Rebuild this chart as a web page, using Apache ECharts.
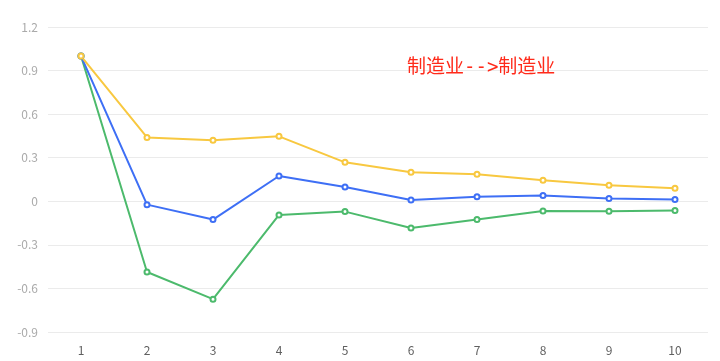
<!DOCTYPE html>
<html>
<head>
<meta charset="utf-8">
<script src="https://cdn.jsdelivr.net/npm/echarts@6/dist/echarts.min.js"></script>
<style>html,body{margin:0;padding:0;background:#fff;}#c{width:720px;height:361px;}</style>
</head>
<body>
<div id="c"></div>
<script>
var categories = ['1','2','3','4','5','6','7','8','9','10'];
var blueValues = [1.0, -0.023, -0.126, 0.174, 0.098, 0.009, 0.032, 0.039, 0.019, 0.012];
var greenValues = [1.0, -0.487, -0.674, -0.094, -0.071, -0.184, -0.126, -0.067, -0.069, -0.064];
var yellowValues = [1.0, 0.44, 0.42, 0.447, 0.268, 0.2, 0.186, 0.145, 0.11, 0.09];
var titleText = '制造业-->制造业';

var chart = echarts.init(document.getElementById('c'));
function mk(data, color) {
  return {
    type: 'line', data: data, symbol: 'emptyCircle', symbolSize: 5,
    lineStyle: { color: color, width: 2 }, itemStyle: { color: color }
  };
}
chart.setOption({
  animation: false,
  textStyle: { fontFamily: '"Noto Sans CJK SC", "Noto Sans", sans-serif' },
  title: {
    text: titleText, left: 402, top: 54,
    textStyle: { color: '#ff2a1a', fontSize: 19, fontWeight: 'normal', fontFamily: '"DejaVu Sans Mono", "Noto Sans CJK SC", monospace' }
  },
  grid: { left: 48, right: 12, top: 27, bottom: 29 },
  xAxis: {
    type: 'category', data: categories, boundaryGap: true,
    axisLine: { show: false }, axisTick: { show: false },
    axisLabel: { color: '#5f5f5f', fontSize: 12, margin: 12 }
  },
  yAxis: {
    type: 'value', min: -0.9, max: 1.2, interval: 0.3,
    axisLabel: { color: '#aaa', fontSize: 12, margin: 10, formatter: function (v) { return String(Math.round(v * 10) / 10); } },
    splitLine: { lineStyle: { color: '#ebebeb' } }
  },
  series: [mk(greenValues, '#4cba6c'), mk(blueValues, '#3e6ff5'), mk(yellowValues, '#f8c840')]
});
</script>
</body>
</html>
